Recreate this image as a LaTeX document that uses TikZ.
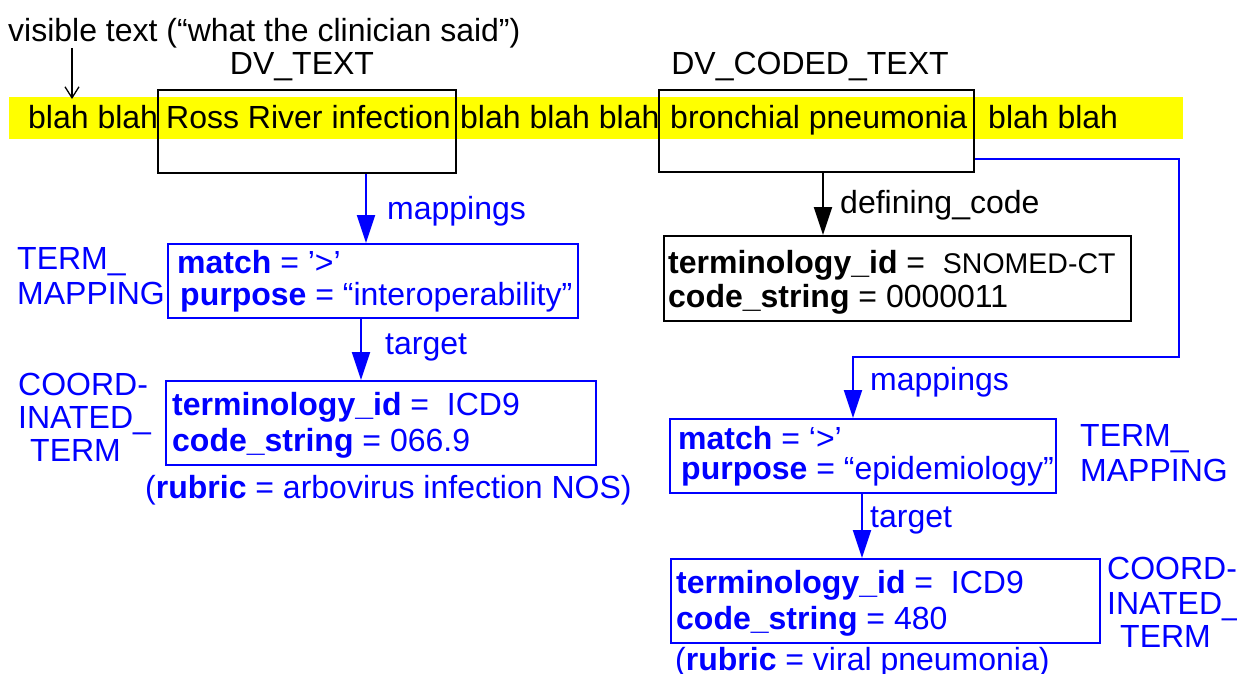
\documentclass[tikz,border=0pt]{standalone}
\usepackage{fontspec}
\setmainfont{Liberation Sans}
\usetikzlibrary{arrows.meta}
\definecolor{hilite}{RGB}{255,255,0}
\definecolor{linkblue}{RGB}{0,0,255}
\tikzset{
  txt/.style={anchor=base west, inner sep=0pt},
  btxt/.style={anchor=base west, inner sep=0pt, text=linkblue},
  frame/.style={draw=black, line width=2pt, anchor=north west, inner sep=0pt},
  bframe/.style={draw=linkblue, line width=2pt, anchor=north west, inner sep=0pt},
  assoc/.style={line width=2pt, -{Triangle[length=28pt,width=18pt]}},
  pointer/.style={line width=1.3pt, -{Straight Barb[length=11pt,width=14pt]}}
}
\begin{document}
\begin{tikzpicture}[x=1pt,y=-1pt, font=\fontsize{32}{36}\selectfont]
\useasboundingbox (0,0) rectangle (1237,673);

% highlighted sentence
\fill[hilite] (9,97) rectangle (1183,139);
\node[txt] (b1) at (28,128) {blah blah};
\node[txt] (rr) at (166,128) {Ross River infection};
\node[txt] (b2) at (460,128) {blah blah blah};
\node[txt] (bp) at (670,128) {bronchial pneumonia};
\node[txt] (b3) at (988,128) {blah blah};

% caption and pointer
\node[txt] (vis) at (8,41) {visible text (“what the clinician said”)};
\coordinate (vtip) at (72,99);
\draw[pointer] (vis.south west -| vtip) -- (vtip);

% data value boxes
\node[anchor=base] (lbltext) at (302,74) {DV\_TEXT};
\node[anchor=base] (lblcoded) at (810,74) {DV\_CODED\_TEXT};
\node[frame, minimum width=298pt, minimum height=83pt] (dvtext) at (157,89) {};
\node[frame, minimum width=315pt, minimum height=82pt] (dvcoded) at (658,89) {};

% defining code
\node[frame, minimum width=467pt, minimum height=85pt] (defcode) at (663,235) {};
\node[txt] (dc1) at (668,273) {\textbf{terminology\_id} = \ {\fontsize{28.5}{34}\selectfont SNOMED-CT}};
\node[txt] (dc2) at (668,307) {\textbf{code\_string} = 0000011};
\coordinate (xd) at (823,0);
\draw[assoc] (dvcoded.south -| xd) -- (defcode.north -| xd);
\node[txt] (lbldef) at (840,213) {defining\_code};

% left mapping
\node[bframe, minimum width=410pt, minimum height=74pt] (tmL) at (167,243) {};
\node[btxt] (tmL1) at (177,273) {\textbf{match} = ’>’};
\node[btxt] (tmL2) at (180,305) {\textbf{purpose} = “interoperability”};
\node[btxt] (tmLa) at (17,269) {TERM\_};
\node[btxt] (tmLb) at (17,304) {MAPPING};
\coordinate (xa) at (366,0);
\draw[assoc, linkblue] (dvtext.south -| xa) -- (tmL.north -| xa);
\node[btxt] (lblmapL) at (387,219) {mappings};

% left coded term
\node[bframe, minimum width=430pt, minimum height=84pt] (ctL) at (165,380) {};
\node[btxt] (ctL1) at (172,415) {\textbf{terminology\_id} = \ ICD9};
\node[btxt] (ctL2) at (172,451) {\textbf{code\_string} = 066.9};
\node[btxt] (rubL) at (145,498) {(\textbf{rubric} = arbovirus infection NOS)};
\node[btxt] (ctLa) at (18,395) {COORD-};
\node[btxt] (ctLb) at (18,428) {INATED\_};
\node[btxt] (ctLc) at (30,461) {TERM};
\coordinate (xt) at (361,0);
\draw[assoc, linkblue] (tmL.south -| xt) -- (ctL.north -| xt);
\node[btxt] (lbltgtL) at (385,354) {target};

% right mapping
\node[bframe, minimum width=386pt, minimum height=74pt] (tmR) at (669,418) {};
\node[btxt] (tmR1) at (678,449) {\textbf{match} = ‘>’};
\node[btxt] (tmR2) at (681,479) {\textbf{purpose} = “epidemiology”};
\node[btxt] (tmRa) at (1080,446) {TERM\_};
\node[btxt] (tmRb) at (1080,481) {MAPPING};
\coordinate (yb) at (0,159);
\coordinate (bend) at (1179,357);
\coordinate (xb) at (853,0);
\draw[assoc, linkblue] (dvcoded.east |- yb) -| (bend) -| (tmR.north -| xb);
\node[btxt] (lblmapR) at (870,390) {mappings};

% right coded term
\node[bframe, minimum width=429pt, minimum height=84pt] (ctR) at (670,558) {};
\node[btxt] (ctR1) at (676,593) {\textbf{terminology\_id} = \ ICD9};
\node[btxt] (ctR2) at (676,629) {\textbf{code\_string} = 480};
\node[btxt] (rubR) at (675,670) {(\textbf{rubric} = viral pneumonia)};
\node[btxt] (ctRa) at (1107,579) {COORD-};
\node[btxt] (ctRb) at (1107,614) {INATED\_};
\node[btxt] (ctRc) at (1120,647) {TERM};
\coordinate (xc) at (862,0);
\draw[assoc, linkblue] (tmR.south -| xc) -- (ctR.north -| xc);
\node[btxt] (lbltgtR) at (870,527) {target};
\end{tikzpicture}
\end{document}
